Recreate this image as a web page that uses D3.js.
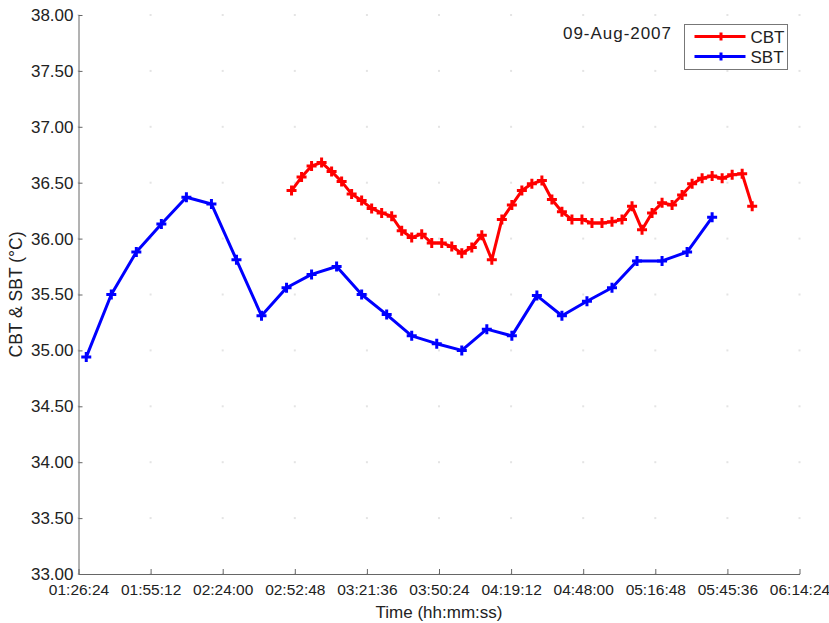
<!DOCTYPE html>
<html lang="en">
<head>
<meta charset="UTF-8">
<title>CBT & SBT</title>
<script src="https://d3js.org/d3.v7.min.js"></script>
<style>
  body { margin: 0; background: #fff; }
  svg { display: block; }
  text { font-family: "Liberation Sans", Arial, sans-serif; fill: #222; }
</style>
</head>
<body>
<svg width="829" height="623"></svg>
<script>
// data
const cbtTimes = ['02:51:30','02:55:30','02:59:30','03:03:30','03:07:30','03:11:30','03:15:30','03:19:30',
  '03:23:30','03:27:30','03:31:30','03:35:30','03:39:30','03:43:30','03:47:30','03:51:30','03:55:30',
  '03:59:30','04:03:30','04:07:30','04:11:30','04:15:30','04:19:30','04:23:30','04:27:30','04:31:30',
  '04:35:30','04:39:30','04:43:30','04:47:30','04:51:30','04:55:30','04:59:30','05:03:30','05:07:30',
  '05:11:30','05:15:30','05:19:30','05:23:30','05:27:30','05:31:30','05:35:30','05:39:30','05:43:30',
  '05:47:30','05:51:30','05:55:30'];
const cbtValues = [36.43, 36.55, 36.65, 36.68, 36.60, 36.51, 36.40, 36.34, 36.27, 36.23, 36.20, 36.07,
  36.01, 36.04, 35.96, 35.96, 35.93, 35.87, 35.92, 36.03, 35.81, 36.17, 36.30, 36.43, 36.49, 36.52,
  36.35, 36.24, 36.17, 36.17, 36.14, 36.14, 36.15, 36.17, 36.29, 36.08, 36.23, 36.32, 36.30, 36.39,
  36.49, 36.54, 36.56, 36.54, 36.57, 36.58, 36.29];

const sbtTimes = ['01:29:30','01:39:30','01:49:30','01:59:30','02:09:30','02:19:30','02:29:30','02:39:30',
  '02:49:30','02:59:30','03:09:30','03:19:30','03:29:30','03:39:30','03:49:30','03:59:30','04:09:30',
  '04:19:30','04:29:30','04:39:30','04:49:30','04:59:30','05:09:30','05:19:30','05:29:30','05:39:30'];
const sbtValues = [34.94, 35.50, 35.88, 36.13, 36.37, 36.31, 35.81, 35.31, 35.56, 35.68, 35.75, 35.50,
  35.32, 35.13, 35.06, 35.00, 35.19, 35.13, 35.49, 35.31, 35.44, 35.56, 35.80, 35.80, 35.88, 36.19];

const xTickLabels = ['01:26:24','01:55:12','02:24:00','02:52:48','03:21:36','03:50:24',
  '04:19:12','04:48:00','05:16:48','05:45:36','06:14:24'];
const yTicks = [33, 33.5, 34, 34.5, 35, 35.5, 36, 36.5, 37, 37.5, 38];

const seriesNames = ['CBT', 'SBT'];
const seriesColors = ['#ff0000', '#0000ff'];
const dateLabel = '09-Aug-2007';

const toSec = s => { const p = s.split(':').map(Number); return p[0] * 3600 + p[1] * 60 + p[2]; };

const margin = { left: 78.5, right: 29.5, top: 15, bottom: 49 };
const width = 829, height = 623;

const svg = d3.select('svg');

const x = d3.scaleLinear()
  .domain([toSec(xTickLabels[0]), toSec(xTickLabels[xTickLabels.length - 1])])
  .range([margin.left, width - margin.right]);
const y = d3.scaleLinear()
  .domain([33, 38])
  .range([height - margin.bottom, margin.top]);

// faint dotted grid (only the crossings show)
const grid = svg.append('g');
xTickLabels.forEach(t => {
  yTicks.forEach(v => {
    grid.append('rect')
      .attr('x', x(toSec(t)) - 1).attr('y', y(v) - 1)
      .attr('width', 2).attr('height', 2)
      .attr('fill', '#e4e4e4');
  });
});

// axes
const xAxis = d3.axisBottom(x)
  .tickValues(xTickLabels.map(toSec))
  .tickFormat((d, i) => xTickLabels[i])
  .tickSizeInner(-5).tickSizeOuter(0).tickPadding(8);
const yAxis = d3.axisLeft(y)
  .tickValues(yTicks)
  .tickFormat(d3.format('.2f'))
  .tickSizeInner(-4).tickSizeOuter(0).tickPadding(8);

const gx = svg.append('g')
  .attr('transform', `translate(0,${height - margin.bottom})`)
  .call(xAxis);
const gy = svg.append('g')
  .attr('transform', `translate(${margin.left},0)`)
  .call(yAxis);

[gx, gy].forEach(g => {
  g.select('.domain').attr('stroke', '#666').attr('stroke-width', 1);
  g.selectAll('.tick line').attr('stroke', '#666');
  g.selectAll('.tick text').attr('fill', '#222').attr('font-family', '"Liberation Sans", Arial, sans-serif');
});
gy.selectAll('.tick text').attr('font-size', 17).attr('dx', 3);
gx.selectAll('.tick text').attr('font-size', 15.5).attr('dy', '0.85em');

// axis titles
svg.append('text')
  .attr('x', (margin.left + width - margin.right) / 2)
  .attr('y', 618)
  .attr('text-anchor', 'middle')
  .attr('font-size', 17)
  .text('Time (hh:mm:ss)');
svg.append('text')
  .attr('transform', `translate(22,${(margin.top + height - margin.bottom) / 2}) rotate(-90)`)
  .attr('text-anchor', 'middle')
  .attr('font-size', 17.5)
  .text('CBT & SBT (°C)');

// series
const series = [
  { times: cbtTimes, values: cbtValues },
  { times: sbtTimes, values: sbtValues }
];
const line = d3.line().x(d => x(d[0])).y(d => y(d[1]));
const plus = 5;

series.forEach((s, i) => {
  const pts = s.times.map((t, j) => [toSec(t), s.values[j]]);
  svg.append('path')
    .datum(pts)
    .attr('d', line)
    .attr('fill', 'none')
    .attr('stroke', seriesColors[i])
    .attr('stroke-width', 3)
    .attr('stroke-linejoin', 'round');
  svg.append('g').selectAll('path')
    .data(pts)
    .enter().append('path')
    .attr('d', d => `M${x(d[0]) - plus},${y(d[1])}H${x(d[0]) + plus}M${x(d[0])},${y(d[1]) - plus}V${y(d[1]) + plus}`)
    .attr('stroke', seriesColors[i])
    .attr('stroke-width', 3);
});

// date label
svg.append('text')
  .attr('x', 563).attr('y', 39)
  .attr('font-size', 17)
  .attr('textLength', 108)
  .text(dateLabel);

// legend
const legend = svg.append('g').attr('transform', 'translate(684.5,24.5)');
legend.append('rect')
  .attr('width', 103).attr('height', 45)
  .attr('fill', '#fff').attr('stroke', '#777');
seriesNames.forEach((name, i) => {
  const ly = 12 + i * 20;
  legend.append('line')
    .attr('x1', 10).attr('x2', 61).attr('y1', ly).attr('y2', ly)
    .attr('stroke', seriesColors[i]).attr('stroke-width', 3);
  legend.append('path')
    .attr('d', `M36.5,${ly - 4}V${ly + 4}`)
    .attr('stroke', seriesColors[i]).attr('stroke-width', 3);
  legend.append('text')
    .attr('x', 66).attr('y', ly + 6)
    .attr('font-size', 17)
    .text(name);
});
</script>
</body>
</html>
